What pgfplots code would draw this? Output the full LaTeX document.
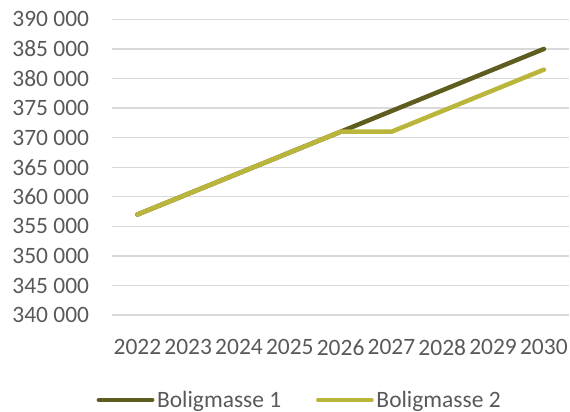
\documentclass[border=0pt]{standalone}
\usepackage{fontspec}
\setmainfont{Carlito}
\usepackage{pgfplots}
\pgfplotsset{compat=1.18}
\definecolor{darkol}{HTML}{5E5D1F}
\definecolor{lightol}{HTML}{BAB63B}
\definecolor{txtgray}{HTML}{595959}
\definecolor{gridgray}{HTML}{D9D9D9}
\begin{document}
\begin{tikzpicture}
\begin{axis}[
  at={(0,0)}, anchor=south west,
  scale only axis,
  width=343pt, height=221.8pt,
  xmin=2021.5, xmax=2030.5,
  ymin=340000, ymax=390000,
  xtick={2022,...,2030},
  ytick={340000,345000,...,390000},
  yticklabels={340 000,345 000,350 000,355 000,360 000,365 000,370 000,375 000,380 000,385 000,390 000},
  scaled y ticks=false,
  /pgf/number format/assume math mode=true,
  /pgf/number format/1000 sep={},
  axis line style={draw=none},
  major tick length=0pt,
  ymajorgrids,
  grid style={gridgray, line width=0.9pt},
  tick label style={font=\fontsize{17.6}{20}\selectfont, text=txtgray, inner sep=0pt},
  yticklabel style={anchor=east},
  xticklabel style={anchor=north},
  yticklabel shift=17pt,
  xticklabel shift=18pt,
  legend columns=2,
  legend style={draw=none, fill=none, at={(0.411,-0.287)}, anchor=center,
    font=\fontsize{17.6}{20}\selectfont, text=txtgray,
    /tikz/every even column/.append style={column sep=24pt},
    inner sep=0pt, nodes={inner sep=2pt}},
  legend image code/.code={\draw[#1, line width=3.4pt, line cap=round] (0pt,0pt) -- (40pt,0pt);},
  clip=false,
]
\addplot[darkol, line width=3.4pt, line cap=round, line join=round] coordinates {
(2022,357000) (2023,360500) (2024,364000) (2025,367500) (2026,371000)
(2027,374500) (2028,378000) (2029,381500) (2030,385000)};
\addlegendentry{Boligmasse 1}
\addplot[lightol, line width=3.4pt, line cap=round, line join=round] coordinates {
(2022,357000) (2023,360500) (2024,364000) (2025,367500) (2026,371000)
(2027,371000) (2028,374500) (2029,378000) (2030,381500)};
\addlegendentry{Boligmasse 2}
\end{axis}
\pgfresetboundingbox
\path (-84pt,-72pt) rectangle (343.5pt,236.3pt);
\end{tikzpicture}
\end{document}
